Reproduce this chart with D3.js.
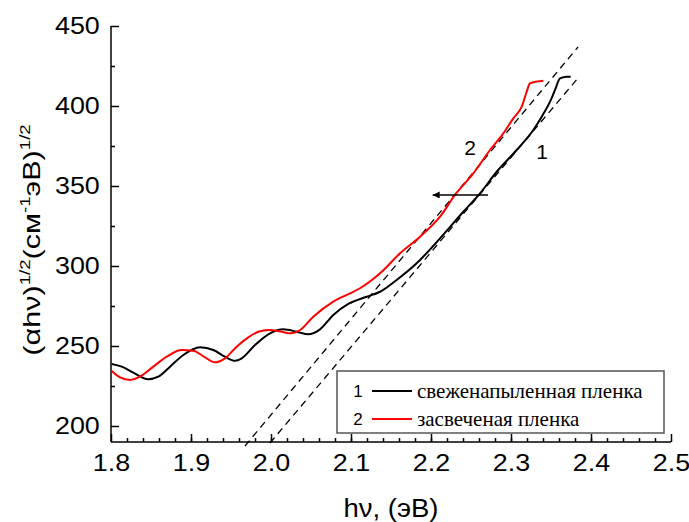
<!DOCTYPE html>
<html>
<head>
<meta charset="utf-8">
<script src="https://cdn.jsdelivr.net/npm/d3@7"></script>
<style>
  body { margin: 0; background: #fff; }
  svg { display: block; }
  .lgtext { font-family: "Liberation Serif", "Times New Roman", "DejaVu Serif", "Noto Serif", "FreeSerif", Tinos, serif; }
</style>
</head>
<body>
<div id="chart"></div>
<script>
// ticks
const xTicks = [1.8, 1.9, 2.0, 2.1, 2.2, 2.3, 2.4, 2.5];
const yTicks = [200, 250, 300, 350, 400, 450];

// curve 1 - свеженапыленная пленка
const freshX = [1.8009, 1.8134, 1.8279, 1.8466, 1.8591, 1.8738, 1.8904, 1.9113, 1.9279, 1.9425,
  1.955, 1.9634, 1.98, 1.9988, 2.0154, 2.0321, 2.0466, 2.0613, 2.0779, 2.0966,
  2.1196, 2.1363, 2.1571, 2.1821, 2.2113, 2.2404, 2.2613, 2.2821, 2.3071, 2.3279,
  2.3384, 2.3488, 2.355, 2.3613, 2.3696, 2.3746];
const freshY = [238.8, 237.1, 233.3, 229.2, 230.8, 237.1, 244.4, 249.2, 247.5, 243.3,
  240.8, 242.3, 250.6, 257.9, 260.4, 258.9, 257.3, 260.4, 269.4, 276.3,
  280.8, 283.9, 291.3, 301.7, 317.3, 333.9, 345.4, 358.9, 372.5, 385.0,
  393.3, 402.7, 410.0, 417.3, 418.3, 418.3];

// curve 2 - засвеченая пленка
const litX = [1.8009, 1.8113, 1.8238, 1.8363, 1.8529, 1.8696, 1.8884, 1.9029, 1.9175, 1.93,
  1.9425, 1.9571, 1.9716, 1.9841, 1.9966, 2.0134, 2.0238, 2.0363, 2.0529, 2.0779,
  2.0988, 2.1113, 2.1363, 2.1613, 2.1863, 2.2113, 2.23, 2.2529, 2.2738, 2.2904,
  2.3029, 2.3134, 2.3196, 2.3238, 2.3404];
const litY = [234.4, 230.4, 228.8, 230.8, 237.1, 243.3, 247.5, 247.1, 242.9, 239.8,
  242.3, 249.6, 255.4, 258.9, 260.0, 258.9, 257.9, 260.0, 268.3, 277.7,
  282.9, 286.1, 295.4, 307.9, 318.3, 330.8, 344.4, 357.9, 372.5, 382.9,
  392.3, 399.6, 408.9, 414.2, 415.8];

// linear fits (dashed)
const fit1X = [1.9988, 2.3838];
const fit1Y = [189.4, 417.5];
const fit2X = [1.9675, 2.3838];
const fit2Y = [187.5, 436.9];

// curve labels and shift arrow
const curveLabels = ["1", "2"];
const curveLabelX = [2.3388, 2.2488];
const curveLabelY = [371.3, 373.8];
const arrowX = [2.2713, 2.2021];
const arrowY = 344.4;

const legendNames = ["свеженапыленная пленка", "засвеченая пленка"];
const colors = ["#000000", "#ff0000"];

const W = 689, H = 522;
const margin = { top: 26, right: 18, bottom: 80, left: 111 };

const svg = d3.select("#chart").append("svg")
  .attr("width", W).attr("height", H);

const x = d3.scaleLinear().domain([1.8, 2.5]).range([margin.left, W - margin.right]);
const y = d3.scaleLinear().domain([190, 450]).range([H - margin.bottom, margin.top]);

const sans = "Liberation Sans, Arial, sans-serif";

// minor ticks
svg.append("g")
  .attr("transform", `translate(0,${y(190)})`)
  .call(d3.axisBottom(x).tickValues(d3.range(1.82, 2.5, 0.02)).tickSize(-4).tickSizeOuter(0).tickFormat(""))
  .call(g => g.select(".domain").remove())
  .call(g => g.selectAll("line").attr("stroke-width", 1.5));
svg.append("g")
  .attr("transform", `translate(${x(1.8)},0)`)
  .call(d3.axisLeft(y).tickValues([225, 275, 325, 375, 425]).tickSize(-4).tickSizeOuter(0).tickFormat(""))
  .call(g => g.select(".domain").remove())
  .call(g => g.selectAll("line").attr("stroke-width", 1.5));

// major axes
const xAxis = svg.append("g")
  .attr("transform", `translate(0,${y(190)})`)
  .call(d3.axisBottom(x).tickValues(xTicks).tickSize(-8).tickSizeOuter(0).tickPadding(11).tickFormat(d3.format(".1f")));
const yAxis = svg.append("g")
  .attr("transform", `translate(${x(1.8)},0)`)
  .call(d3.axisLeft(y).tickValues(yTicks).tickSize(-8).tickSizeOuter(0).tickPadding(10));

[xAxis, yAxis].forEach(g => {
  g.selectAll("text").attr("font-family", sans).attr("font-size", 24).attr("fill", "#000")
    .attr("transform", "scale(1.12,1)");
  g.selectAll("line").attr("stroke-width", 1.5);
  g.select(".domain").attr("stroke-width", 1.5);
});
xAxis.selectAll("text").attr("dy", "0.76em");
yAxis.select(".domain").attr("d", `M0,${y(190)}V${y(450)}`);
xAxis.select(".domain").attr("d", `M${x(1.8)},0H${x(2.5)}`);

// dashed fits
const line = d3.line().x(d => x(d[0])).y(d => y(d[1]));
[[fit1X, fit1Y], [fit2X, fit2Y]].forEach(([fx, fy]) => {
  svg.append("path")
    .attr("d", line(fx.map((v, i) => [v, fy[i]])))
    .attr("fill", "none").attr("stroke", "#000")
    .attr("stroke-width", 1.3).attr("stroke-dasharray", "7,5");
});

// curves
const curve = d3.line().x(d => x(d[0])).y(d => y(d[1])).curve(d3.curveMonotoneX);
[[freshX, freshY], [litX, litY]].forEach(([cx, cy], i) => {
  svg.append("path")
    .attr("d", curve(cx.map((v, j) => [v, cy[j]])))
    .attr("fill", "none").attr("stroke", colors[i])
    .attr("stroke-width", 2).attr("stroke-linejoin", "round");
});

// arrow
svg.append("defs").append("marker")
  .attr("id", "head").attr("viewBox", "0 0 10 10").attr("refX", 10).attr("refY", 5)
  .attr("markerWidth", 10).attr("markerHeight", 7).attr("markerUnits", "userSpaceOnUse")
  .attr("orient", "auto")
  .append("path").attr("d", "M0,0L10,5L0,10Z").attr("fill", "#000");
svg.append("line")
  .attr("x1", x(arrowX[0])).attr("x2", x(arrowX[1]))
  .attr("y1", y(arrowY)).attr("y2", y(arrowY))
  .attr("stroke", "#000").attr("stroke-width", 1.5)
  .attr("marker-end", "url(#head)");

// curve labels
svg.selectAll(".clabel").data(curveLabels).enter().append("text")
  .attr("x", (d, i) => x(curveLabelX[i])).attr("y", (d, i) => y(curveLabelY[i]))
  .attr("text-anchor", "middle").attr("dominant-baseline", "central")
  .attr("font-family", sans).attr("font-size", 21).text(d => d);

// legend
const lg = svg.append("g");
lg.append("rect").attr("x", 337).attr("y", 371).attr("width", 327).attr("height", 62)
  .attr("fill", "#fff").attr("stroke", "#555").attr("stroke-width", 1.5);
legendNames.forEach((name, i) => {
  const ly = 391 + i * 28;
  lg.append("text").attr("x", 358).attr("y", ly).attr("text-anchor", "middle")
    .attr("dominant-baseline", "central").attr("font-family", sans).attr("font-size", 17)
    .text(curveLabels[i]);
  lg.append("line").attr("x1", 372).attr("x2", 412).attr("y1", ly).attr("y2", ly)
    .attr("stroke", colors[i]).attr("stroke-width", 2);
  lg.append("text").attr("class", "lgtext").attr("x", 417).attr("y", ly + 7)
    .attr("font-size", 21).text(name);
});

// axis titles
svg.append("text")
  .attr("x", (x(1.8) + x(2.5)) / 2).attr("y", 517)
  .attr("text-anchor", "middle").attr("font-family", sans).attr("font-size", 26)
  .attr("textLength", 95).attr("lengthAdjust", "spacingAndGlyphs")
  .text("hν, (эВ)");

const yt = svg.append("text")
  .attr("transform", "translate(40,240) rotate(-90) scale(1.33,1)")
  .attr("text-anchor", "middle").attr("font-family", sans).attr("font-size", 23);
yt.append("tspan").text("(αhν)");
yt.append("tspan").attr("font-size", 14).attr("dy", -10).text("1/2");
yt.append("tspan").attr("dy", 10).text("(см");
yt.append("tspan").attr("font-size", 14).attr("dy", -10).text("-1");
yt.append("tspan").attr("dy", 10).text("эВ)");
yt.append("tspan").attr("font-size", 14).attr("dy", -10).text("1/2");
</script>
</body>
</html>
